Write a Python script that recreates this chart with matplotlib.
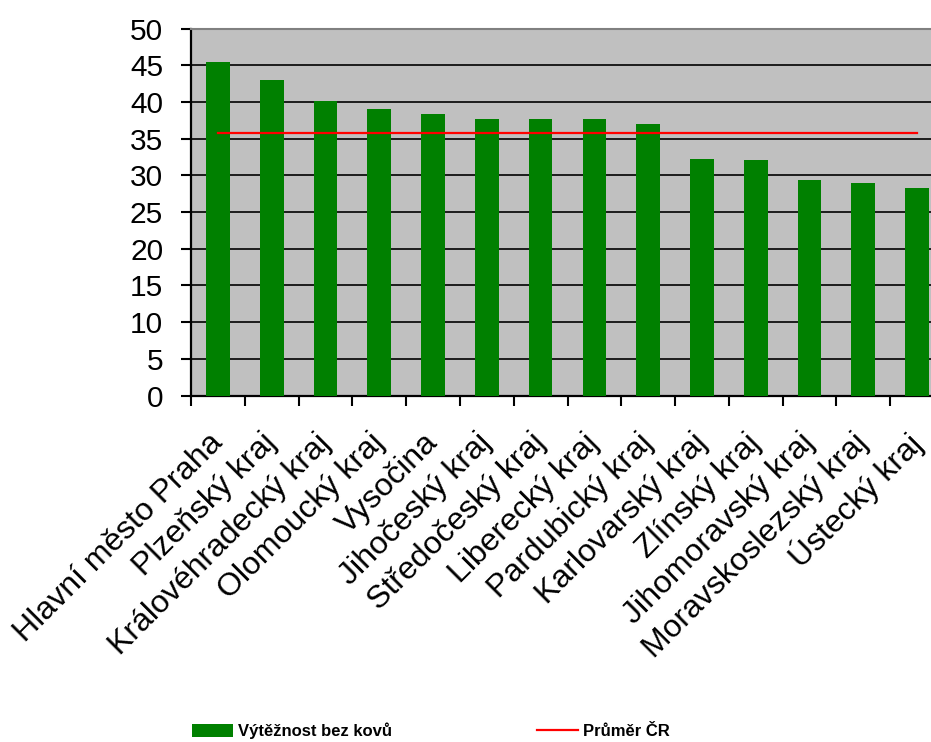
import matplotlib
matplotlib.use("Agg")
import matplotlib.pyplot as plt
import numpy as np
from matplotlib.patches import Patch
from matplotlib.lines import Line2D

regions = [
    "Hlavní město Praha", "Plzeňský kraj", "Královéhradecký kraj",
    "Olomoucký kraj", "Vysočina", "Jihočeský kraj", "Středočeský kraj",
    "Liberecký kraj", "Pardubický kraj", "Karlovarský kraj", "Zlínský kraj",
    "Jihomoravský kraj", "Moravskoslezský kraj", "Ústecký kraj",
]
yield_values = [45.4, 43.0, 40.1, 39.1, 38.4, 37.7, 37.7, 37.7, 37.0,
                32.2, 32.1, 29.3, 29.0, 28.3]
national_avg = 35.8
y_ticks = [0, 5, 10, 15, 20, 25, 30, 35, 40, 45, 50]

series_label = "Výtěžnost bez kovů"
avg_label = "Průměr ČR"

plt.rcParams["font.family"] = ["Liberation Sans", "DejaVu Sans"]

W, H = 931, 742
fig = plt.figure(figsize=(W / 100, H / 100), dpi=100)
fig.patch.set_facecolor("white")

left, right, bottom, top = 191 / W, 944 / W, 1 - 395.5 / H, 1 - 28.5 / H
ax = fig.add_axes([left, bottom, right - left, top - bottom])
ax.set_facecolor("#C0C0C0")

x = np.arange(len(regions))
ax.bar(x, yield_values, width=0.44, color="#008000", zorder=3)
ax.plot(x, [national_avg] * len(x), color="#FF0000", lw=1.6, zorder=4)

ax.set_xlim(-0.5, len(regions) - 0.5)
ax.set_ylim(0, 50)
ax.set_yticks(y_ticks)
ax.yaxis.grid(True, color="black", lw=1.2, zorder=1)
ax.set_axisbelow(True)

# category boundaries carry the tick marks, centres carry the labels
ax.set_xticks(np.arange(len(regions) + 1) - 0.5)
ax.set_xticklabels([])
ax.set_xticks(x, minor=True)
ax.set_xticklabels(regions, minor=True, rotation=45, ha="right",
                   va="center", rotation_mode="anchor", fontsize=23)
ax.tick_params(axis="x", which="major", direction="out", length=7,
               width=1.5, color="black")
ax.tick_params(axis="x", which="minor", length=0, pad=31)
ax.tick_params(axis="y", direction="out", length=7, width=1.5,
               labelsize=21.5, pad=13)

for side in ("top", "right"):
    ax.spines[side].set_color("#808080")
    ax.spines[side].set_linewidth(1.5)
for side in ("left", "bottom"):
    ax.spines[side].set_color("black")
    ax.spines[side].set_linewidth(1.6)

handles = [Patch(facecolor="#008000", edgecolor="none"),
           Line2D([0], [0], color="#FF0000", lw=1.6)]
leg = fig.legend(handles, [series_label, avg_label], ncol=2,
                 loc="center left", bbox_to_anchor=(192 / W, 1 - 731 / H),
                 frameon=False, borderpad=0, borderaxespad=0,
                 handlelength=2.46, handleheight=0.84, handletextpad=0.3,
                 columnspacing=8.7,
                 prop={"family": "Liberation Sans", "weight": "bold",
                       "size": 12})

fig.savefig("out.png", dpi=100)
